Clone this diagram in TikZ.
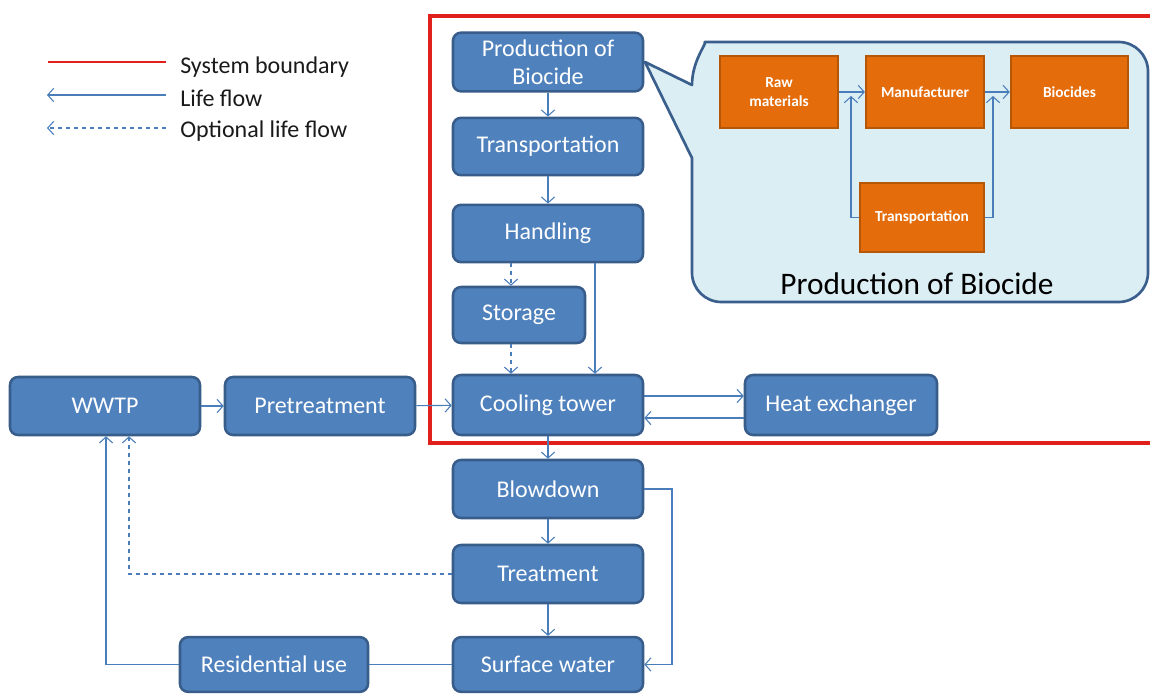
\documentclass[tikz,border=0pt]{standalone}
\usepackage{fontspec}
\setmainfont{Carlito}
\usetikzlibrary{arrows.meta,calc}
\definecolor{nodefill}{HTML}{4F81BD}
\definecolor{nodeborder}{HTML}{385D8A}
\definecolor{flow}{HTML}{4A7EBB}
\definecolor{bound}{HTML}{E0201A}
\definecolor{bubblefill}{HTML}{DBEEF4}
\definecolor{bubbleborder}{HTML}{3B5F8C}
\definecolor{orangefill}{HTML}{E46C0A}
\definecolor{orangeborder}{HTML}{B65708}
\definecolor{legendtext}{HTML}{1A1A1A}
\begin{document}
\begin{tikzpicture}[x=0.75pt,y=-0.75pt,
  box/.style={draw=nodeborder, line width=1.9pt, fill=nodefill, rounded corners=6pt,
    text=white, font=\fontsize{18}{21}\selectfont, align=center, inner sep=0pt},
  obox/.style={draw=orangeborder, line width=1.6pt, fill=orangefill, text=white,
    font=\bfseries\fontsize{11.5}{14}\selectfont, align=center, inner sep=0pt},
  flowline/.style={draw=flow, line width=0.8pt},
  arr/.style={flowline, -{Straight Barb[length=4.5pt,width=10pt]}},
  darr/.style={arr, dashed},
  legend/.style={anchor=west, inner sep=0pt, text=legendtext, font=\fontsize{18}{20}\selectfont},
]
\useasboundingbox (0,0) rectangle (1150,696);
\fill[white] (0,0) rectangle (1150,696);

% system boundary
\draw[bound, line width=3pt] (430,16) rectangle (1170,443);

% legend
\coordinate (l1a) at (48,62);  \coordinate (l1b) at (166,62);
\coordinate (l2a) at (47,95);  \coordinate (l2b) at (166,95);
\coordinate (l3a) at (47,128); \coordinate (l3b) at (166,128);
\draw[bound, line width=2.2pt] (l1a) -- (l1b);
\draw[arr] (l2b) -- (l2a);
\draw[darr] (l3b) -- (l3a);
\node[legend] (t1) at (180,67) {System boundary};
\node[legend] (t2) at (180,98) {Life flow};
\node[legend] (t3) at (180,131) {Optional life flow};

% callout bubble
\path[draw=bubbleborder, fill=bubblefill, line width=2pt, line join=round]
  (692,85) -- (645,62) -- (692,158) -- (692,185) [rounded corners=22pt] -- (692,302) -- (1148,302)
  -- (1148,42) -- (734,42) [sharp corners] .. controls (708,42) and (692,60) .. (692,85) -- cycle;
\node[font=\fontsize{23.5}{26}\selectfont, inner sep=0pt] (lbl) at (917,284) {Production of Biocide};

% orange boxes
\node[obox, minimum width=88.5pt, minimum height=54pt] (raw) at (779,92) {Raw\\materials};
\node[obox, minimum width=88.5pt, minimum height=54pt] (man) at (925,92) {Manufacturer};
\node[obox, minimum width=88pt, minimum height=54pt] (bio) at (1069.5,92) {Biocides};
\node[obox, minimum width=93pt, minimum height=52pt] (otr) at (922,217.5) {Transportation};
\coordinate (xo1) at (851,0);
\coordinate (xo2) at (993,0);
\draw[arr] (raw) -- (man);
\draw[arr] (man) -- (bio);
\draw[arr] (otr.west) -| ([yshift=-3pt]xo1 |- raw.east);
\draw[arr] (otr.east) -| ([yshift=-3pt]xo2 |- man.east);

% blue nodes
\node[box, minimum width=142.5pt, minimum height=44pt] (prod) at (548,62) {Production of\\Biocide};
\node[box, minimum width=142.5pt, minimum height=43pt] (trans) at (548,146.5) {Transportation};
\node[box, minimum width=142.5pt, minimum height=43pt] (hand) at (548,233.5) {Handling};
\node[box, minimum width=99pt, minimum height=42pt] (stor) at (519,315) {Storage};
\node[box, minimum width=142.5pt, minimum height=45pt] (cool) at (548,405) {Cooling tower};
\node[box, minimum width=144pt, minimum height=45pt] (heat) at (841,405) {Heat exchanger};
\node[box, minimum width=142.5pt, minimum height=43.5pt] (wwtp) at (105,406) {WWTP};
\node[box, minimum width=142.5pt, minimum height=43.5pt] (pre) at (320,406) {Pretreatment};
\node[box, minimum width=142.5pt, minimum height=43.5pt] (blow) at (548,489) {Blowdown};
\node[box, minimum width=142.5pt, minimum height=43.5pt] (treat) at (548,574) {Treatment};
\node[box, minimum width=142.5pt, minimum height=41pt] (surf) at (548,664.5) {Surface water};
\node[box, minimum width=141pt, minimum height=41pt] (res) at (274,664.5) {Residential use};

% connector helper coordinates
\coordinate (xs) at (511,0);
\coordinate (xh) at (595,0);
\coordinate (ya) at (0,396);
\coordinate (yb) at (0,418);
\coordinate (xr) at (672,0);
\coordinate (xd) at (129,0);
\coordinate (xw) at (106,0);

% connectors
\draw[arr] (prod) -- (trans);
\draw[arr] (trans) -- (hand);
\draw[darr] (hand.south -| xs) -- (stor.north -| xs);
\draw[darr] (stor.south -| xs) -- (cool.north -| xs);
\draw[arr] (hand.south -| xh) -- (cool.north -| xh);
\draw[arr] (wwtp) -- (pre);
\draw[arr] (pre) -- (cool);
\draw[arr] (cool.east |- ya) -- (heat.west |- ya);
\draw[arr] (heat.west |- yb) -- (cool.east |- yb);
\draw[arr] (cool) -- (blow);
\draw[arr] (blow) -- (treat);
\draw[arr] (treat) -- (surf);
\draw[arr] (blow.east) -- (blow.east -| xr) |- (surf.east);
\draw[darr] (treat.west) -| (wwtp.south -| xd);
\draw[flowline] (surf.west) -- (res.east);
\draw[arr] (res.west) -| (wwtp.south -| xw);
\end{tikzpicture}
\end{document}
